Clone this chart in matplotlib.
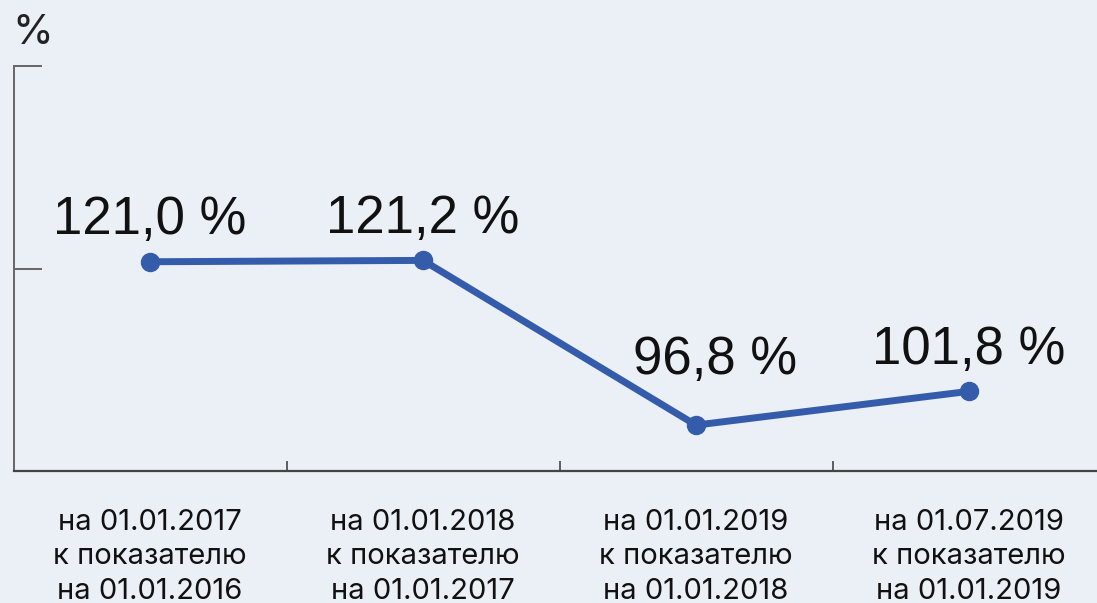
import matplotlib.pyplot as plt

# data
categories = [
    "на 01.01.2017\nк показателю\nна 01.01.2016",
    "на 01.01.2018\nк показателю\nна 01.01.2017",
    "на 01.01.2019\nк показателю\nна 01.01.2018",
    "на 01.07.2019\nк показателю\nна 01.01.2019",
]
values = [121.0, 121.2, 96.8, 101.8]
value_labels = ["121,0 %", "121,2 %", "96,8 %", "101,8 %"]

# label offsets (points) relative to each marker
label_offsets = [(0, 20), (0, 20), (14, 37), (0, 20)]

BG = "#EBEFF6"
LINE = "#355CAA"

fig = plt.figure(figsize=(10.97, 6.03), dpi=100, facecolor=BG)
ax = fig.add_axes([13.5 / 1097, 132 / 603, 1092 / 1097, 405 / 603])
ax.set_facecolor(BG)

x = list(range(len(values)))
ax.plot(x, values, color=LINE, linewidth=5, marker="o", markersize=13,
        solid_capstyle="butt", zorder=3)

for xi, v, lab, off in zip(x, values, value_labels, label_offsets):
    ax.annotate(lab, (xi, v), xytext=off, textcoords="offset points",
                ha="center", va="baseline", fontsize=38, color="#111111",
                family="Liberation Sans")

ax.set_xlim(-0.5, 3.5)
ax.set_ylim(90, 150)

# spines
for side in ("top", "right"):
    ax.spines[side].set_visible(False)
ax.spines["left"].set_color("#666666")
ax.spines["left"].set_linewidth(1.4)
ax.spines["bottom"].set_color("#444444")
ax.spines["bottom"].set_linewidth(1.6)

# y ticks: no labels, long inward ticks
ax.set_yticks([120, 150])
ax.set_yticklabels([])
ax.tick_params(axis="y", direction="in", length=20, width=1.4, color="#666666")

# x: labels at categories, tick marks between them
ax.set_xticks(x)
ax.set_xticklabels(categories, fontsize=21, family="Inter", color="#111111",
                   linespacing=1.38)
ax.set_xticks([0.5, 1.5, 2.5], minor=True)
ax.tick_params(axis="x", which="major", length=0, pad=27)
ax.tick_params(axis="x", which="minor", direction="in", length=7.2,
               width=1.2, color="#444444")

fig.text(12 / 1097, 1 - 44 / 603, "%", fontsize=30, family="Inter",
         color="#222222", ha="left", va="baseline")

fig.savefig("out.png", dpi=100, facecolor=BG)
